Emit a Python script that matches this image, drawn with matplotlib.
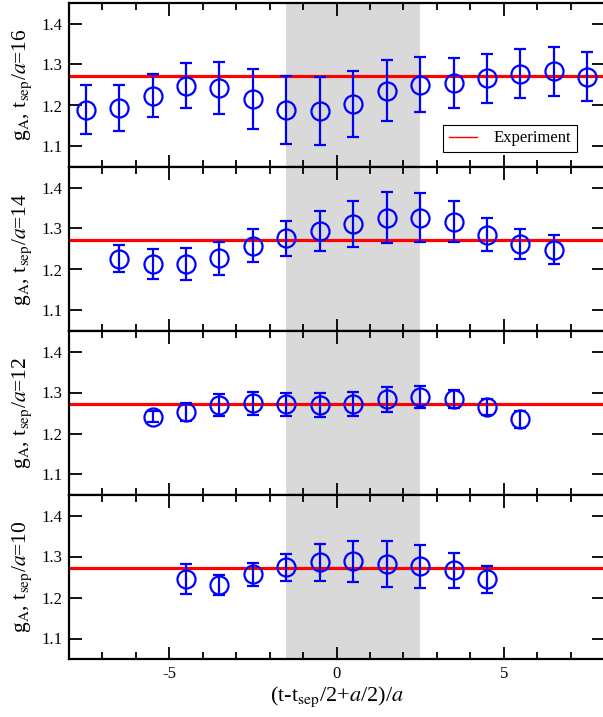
import numpy as np
import matplotlib
matplotlib.use('Agg')
import matplotlib.pyplot as plt
from matplotlib.lines import Line2D

## Data: x positions, g_A values and errors per t_sep
x16 = [-7.5, -6.5, -5.5, -4.5, -3.5, -2.5, -1.5, -0.5, 0.5, 1.5, 2.5, 3.5, 4.5, 5.5, 6.5, 7.5]
g16 = [1.190, 1.193, 1.224, 1.248, 1.243, 1.216, 1.190, 1.186, 1.204, 1.236, 1.251, 1.255, 1.266, 1.278, 1.283, 1.270]
e16 = [0.060, 0.056, 0.052, 0.055, 0.063, 0.073, 0.083, 0.083, 0.080, 0.075, 0.067, 0.060, 0.060, 0.059, 0.059, 0.060]

x14 = [-6.5, -5.5, -4.5, -3.5, -2.5, -1.5, -0.5, 0.5, 1.5, 2.5, 3.5, 4.5, 5.5, 6.5]
g14 = [1.226, 1.213, 1.214, 1.227, 1.258, 1.276, 1.293, 1.311, 1.326, 1.326, 1.317, 1.285, 1.263, 1.248]
e14 = [0.033, 0.037, 0.039, 0.040, 0.040, 0.042, 0.049, 0.057, 0.062, 0.060, 0.050, 0.041, 0.037, 0.035]

x12 = [-5.5, -4.5, -3.5, -2.5, -1.5, -0.5, 0.5, 1.5, 2.5, 3.5, 4.5, 5.5]
g12 = [1.241, 1.253, 1.270, 1.274, 1.271, 1.270, 1.272, 1.283, 1.289, 1.284, 1.264, 1.235]
e12 = [0.014, 0.022, 0.027, 0.028, 0.028, 0.029, 0.029, 0.030, 0.027, 0.023, 0.019, 0.021]

x10 = [-4.5, -3.5, -2.5, -1.5, -0.5, 0.5, 1.5, 2.5, 3.5, 4.5]
g10 = [1.245, 1.230, 1.257, 1.274, 1.286, 1.289, 1.282, 1.276, 1.266, 1.244]
e10 = [0.037, 0.024, 0.028, 0.033, 0.045, 0.050, 0.056, 0.052, 0.042, 0.033]

tseps = [16, 14, 12, 10]
g_exp = 1.2723
band = [-1.5, 2.5]
xlim = [-8, 8]
ylim = [1.05, 1.45]
yticks = [1.1, 1.2, 1.3, 1.4]

## Fonts: Times-like text and maths
plt.rcParams['font.family'] = 'serif'
plt.rcParams['font.serif'] = ['Liberation Serif', 'DejaVu Serif']
plt.rcParams['mathtext.fontset'] = 'stix'
plt.rcParams['axes.unicode_minus'] = False

fig = plt.figure(figsize=(6.03, 7.17), dpi=100)
gs = fig.add_gridspec(4, 1, left=69/603, right=604/603, top=1-3/717, bottom=1-659/717, hspace=0)

## Draw one panel
def panel(ax, x, g, e, tsep):
	ax.axvspan(band[0], band[1], color='#d9d9d9', lw=0, zorder=0)
	ax.axhline(g_exp, color='red', lw=2.3, zorder=1)
	ax.errorbar(x, g, yerr=e, fmt='o', ms=13, mfc='none', mec='blue', mew=1.6,
		ecolor='blue', elinewidth=1.6, capsize=4.5, capthick=1.6, zorder=3)
	ax.set_xlim(xlim)
	ax.set_ylim(ylim)
	ax.set_yticks(yticks)
	ax.set_yticklabels(['%.1f' % t for t in yticks])
	ax.set_xticks([-5, 0, 5])
	ax.set_xticks(np.arange(-8, 9, 1), minor=True)
	ax.tick_params(which='both', direction='in', top=True, right=True, width=1.3)
	ax.tick_params(which='major', length=9, labelsize=12, pad=5)
	ax.tick_params(which='minor', length=5)
	for s in ax.spines.values():
		s.set_linewidth(1.6)
	ax.set_ylabel(r'g$_{\mathrm{A}}$, t$_{\mathrm{sep}}$/$a$=%d' % tsep, fontsize=15.5)
	ax.yaxis.set_label_coords(-0.066, 0.5)

data = [(x16, g16, e16), (x14, g14, e14), (x12, g12, e12), (x10, g10, e10)]
axes = []
for i, (x, g, e) in enumerate(data):
	ax = fig.add_subplot(gs[i])
	panel(ax, x, g, e, tseps[i])
	if i < 3:
		ax.tick_params(labelbottom=False)
	axes.append(ax)

## Legend in top panel
proxy = Line2D([], [], color='red', lw=1)
axes[0].legend([proxy], ['Experiment'], loc='lower right', bbox_to_anchor=(0.95, 0.09),
	borderaxespad=0, fontsize=12, frameon=True, fancybox=False, edgecolor='black',
	framealpha=1, handlelength=1.7, handletextpad=1.0, borderpad=0.35)
axes[0].get_legend().get_frame().set_linewidth(0.8)

axes[3].set_xlabel(r'(t-t$_{\mathrm{sep}}$/2+$a$/2)/$a$', fontsize=16, labelpad=2)

plt.savefig('out.png', dpi=100)
